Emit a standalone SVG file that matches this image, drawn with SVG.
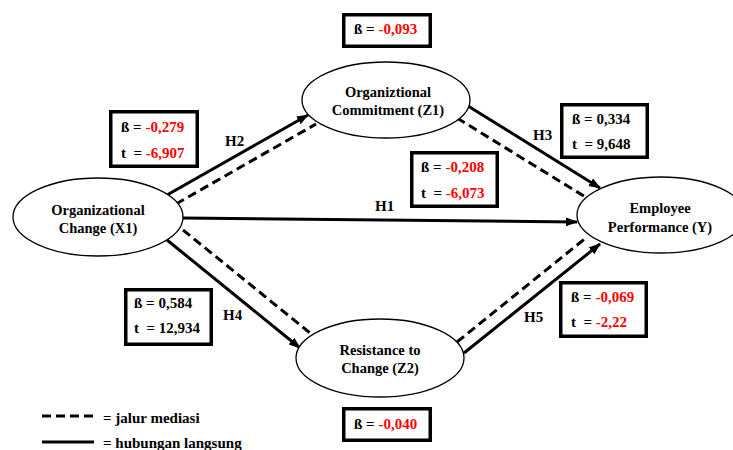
<svg xmlns="http://www.w3.org/2000/svg" width="733" height="450" viewBox="0 0 733 450" font-family="'Times New Roman', 'Liberation Serif', Tinos, serif" font-weight="bold">
<defs>
<style>
text{font-family:'Times New Roman','Liberation Serif',Tinos,serif;font-weight:bold;fill:#000}
.n{font-size:14.5px;text-anchor:middle}
.b{font-size:15px}
.r{fill:#ff0000}
.box{fill:#fff;stroke:#000;stroke-width:3.5}
.ell{fill:#fff;stroke:#000;stroke-width:1.3}
.s{stroke:#000;stroke-width:3;fill:none}
.d{stroke:#000;stroke-width:3;fill:none;stroke-dasharray:9 5}
</style>
<marker id="ah" markerUnits="userSpaceOnUse" markerWidth="12" markerHeight="10" refX="11" refY="4.5" orient="auto">
<path d="M0,0 L12,4.5 L0,9 z" fill="#000"/>
</marker>
</defs>
<rect width="733" height="450" fill="#fff"/>

<g id="connectors">
<line class="s" x1="167" y1="195" x2="308" y2="115" marker-end="url(#ah)"/>
<line class="d" x1="176" y1="204" x2="316" y2="124"/>
<line class="s" x1="183" y1="218" x2="577" y2="222" marker-end="url(#ah)"/>
<line class="s" x1="468" y1="106" x2="600" y2="188" marker-end="url(#ah)"/>
<line class="d" x1="457" y1="118" x2="587" y2="198"/>
<line class="s" x1="167" y1="240" x2="300" y2="348" marker-end="url(#ah)"/>
<line class="d" x1="183" y1="230" x2="310" y2="333"/>
<line class="s" x1="464" y1="353" x2="600" y2="244" marker-end="url(#ah)"/>
<line class="d" x1="457" y1="342" x2="587" y2="237"/>
<text class="b" x="225" y="146">H2</text>
<text class="b" x="375" y="211">H1</text>
<text class="b" x="533" y="140">H3</text>
<text class="b" x="223" y="320">H4</text>
<text class="b" x="524" y="322">H5</text>
</g>

<g id="X1">
<ellipse class="ell" cx="98" cy="217" rx="85" ry="39"/>
<text class="n" x="98" y="215">Organizational</text>
<text class="n" x="98" y="233">Change (X1)</text>
</g>
<g id="Z1">
<ellipse class="ell" cx="386" cy="100" rx="84" ry="38"/>
<text class="n" x="388" y="97">Organiztional</text>
<text class="n" x="388" y="115">Commitment (Z1)</text>
</g>
<g id="Y">
<ellipse class="ell" cx="661" cy="215" rx="84" ry="38"/>
<text class="n" x="660" y="213">Employee</text>
<text class="n" x="660" y="232">Performance (Y)</text>
</g>
<g id="Z2">
<ellipse class="ell" cx="380" cy="358" rx="84" ry="39"/>
<text class="n" x="380" y="355">Resistance to</text>
<text class="n" x="380" y="373">Change (Z2)</text>
</g>

<g id="box-z1">
<rect class="box" x="343.75" y="14.75" width="86.5" height="31.5"/>
<text class="b" x="354" y="34">ß = <tspan class="r">-0,093</tspan></text>
</g>
<g id="box-h2">
<rect class="box" x="110.75" y="111.75" width="86.5" height="54.5"/>
<text class="b" x="121" y="132">ß = <tspan class="r">-0,279</tspan></text>
<text class="b" x="121" y="158" xml:space="preserve">t  = <tspan class="r">-6,907</tspan></text>
</g>
<g id="box-h3">
<rect class="box" x="561.75" y="104.75" width="85.5" height="52.5"/>
<text class="b" x="572" y="124">ß = 0,334</text>
<text class="b" x="572" y="149" xml:space="preserve">t  = 9,648</text>
</g>
<g id="box-h1">
<rect class="box" x="411.75" y="152.75" width="85.5" height="53.5"/>
<text class="b" x="421" y="172">ß = <tspan class="r">-0,208</tspan></text>
<text class="b" x="421" y="198" xml:space="preserve">t  = <tspan class="r">-6,073</tspan></text>
</g>
<g id="box-h4">
<rect class="box" x="125.75" y="289.75" width="85.5" height="54.5"/>
<text class="b" x="134" y="308">ß = 0,584</text>
<text class="b" x="134" y="333" xml:space="preserve">t  = 12,934</text>
</g>
<g id="box-h5">
<rect class="box" x="560.75" y="282.75" width="85.5" height="53.5"/>
<text class="b" x="571" y="302">ß = <tspan class="r">-0,069</tspan></text>
<text class="b" x="571" y="327" xml:space="preserve">t  = <tspan class="r">-2,22</tspan></text>
</g>
<g id="box-z2">
<rect class="box" x="343.75" y="408.75" width="86.5" height="31.5"/>
<text class="b" x="354" y="429">ß = <tspan class="r">-0,040</tspan></text>
</g>

<g id="legend">
<line class="d" x1="42" y1="416" x2="94" y2="416" stroke-dasharray="10 4"/>
<text class="b" x="103" y="423">= jalur mediasi</text>
<line class="s" x1="42" y1="442" x2="94" y2="442"/>
<text class="b" x="103" y="448">= hubungan langsung</text>
</g>
</svg>
